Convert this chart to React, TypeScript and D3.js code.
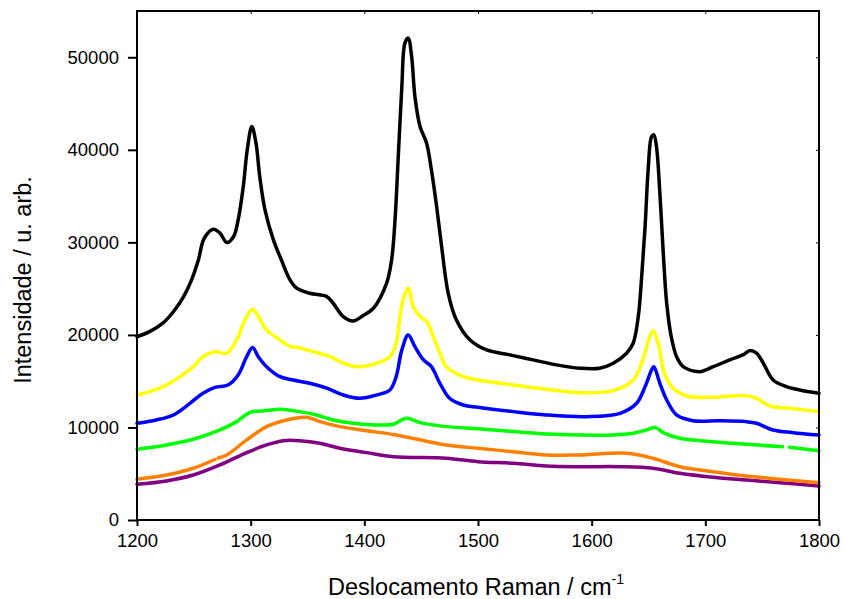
import React, { useEffect, useRef } from 'react';
import * as d3 from 'd3';

// [wavenumber, intensity]; null = gap in the trace
const black: [number, number | null][] = [
  [1200, 19800], [1211, 20350], [1223, 21300], [1232, 22500], [1241, 24140], [1248, 25950],
  [1254, 28100], [1259, 30400], [1267, 31420], [1273, 31000], [1279, 29980],
  [1285, 30630], [1289, 32430], [1293.5, 36030], [1297, 40000], [1301, 42520], [1304.7, 40720],
  [1308, 37110], [1312.6, 33510], [1320, 30270], [1327, 28100], [1334.6, 25950], [1340.5, 25050],
  [1352, 24500], [1367, 24140], [1372.6, 23420], [1381.5, 21980], [1390, 21500], [1399, 22100],
  [1408, 22880], [1419.6, 25590], [1424, 28100], [1427, 32430], [1430, 39640], [1433, 46840],
  [1435.7, 51530], [1438.6, 52070], [1441.6, 50090], [1444.5, 45760], [1449, 42520], [1454.8, 40720],
  [1459, 37840], [1463.6, 33870], [1468, 29540], [1473.8, 24500], [1481, 21620], [1493, 19460],
  [1507.6, 18380], [1528, 17840], [1548.5, 17300], [1569, 16760], [1589.6, 16400], [1607, 16400],
  [1619, 16940], [1630.7, 18020], [1636.5, 19100], [1641, 21980], [1644, 26300], [1647, 31700],
  [1649.7, 37840], [1652.7, 41430], [1654.7, 41620], [1657, 40360], [1660, 35320], [1663, 28830],
  [1666, 23420], [1670, 19810], [1674.7, 17650], [1680.5, 16570], [1695, 16030], [1707, 16570],
  [1721.5, 17300], [1733, 17840], [1739, 18300], [1745, 18020], [1751, 16940], [1759.6, 15130],
  [1771.4, 14410], [1783, 14050], [1800, 13700],
];

const yellow: [number, number | null][] = [
  [1200, 13510], [1211, 13870], [1223, 14410], [1238, 15490], [1249.5, 16570], [1258, 17650],
  [1268.6, 18190], [1279, 18020], [1287.7, 19460], [1295, 21620], [1301.7, 22780], [1306.7, 21980],
  [1314, 20540], [1325.8, 19460], [1334.6, 18740], [1340.5, 18670], [1355, 18190], [1370, 17650],
  [1381.5, 16940], [1393, 16570], [1411, 16940], [1422.5, 17650], [1428, 19100], [1431, 21620],
  [1434, 23780], [1438.6, 25050], [1443, 23060], [1449, 21980], [1455, 21440], [1460.6, 19810],
  [1466.5, 18020], [1472, 16570], [1487, 15490], [1500, 15130], [1531, 14590], [1560, 14130],
  [1589.6, 13760], [1619, 13980], [1636.5, 15130], [1645, 17300], [1651, 19810], [1654, 20460],
  [1658.5, 19100], [1664, 15860], [1671.7, 14240], [1683.5, 13400], [1707, 13260], [1736, 13440],
  [1745, 13150], [1756.7, 12320], [1774, 12070], [1800, 11710],
];

const blue: [number, number | null][] = [
  [1200, 10450], [1217, 10810], [1232, 11350], [1246.6, 12610], [1258, 13700], [1268.6, 14340],
  [1280, 14590], [1289, 15670], [1296.5, 17650], [1301.7, 18630], [1306.7, 17650], [1314, 16570],
  [1325.8, 15490], [1337.5, 15130], [1352, 14770], [1367, 14240], [1381.5, 13510], [1396, 13150],
  [1411, 13510], [1422.5, 14050], [1428, 15490], [1433, 18380], [1438.6, 20000], [1444.5, 18740],
  [1452, 17300], [1459, 16570], [1466.5, 14770], [1475, 13150], [1487, 12430], [1500, 12180],
  [1531, 11710], [1560, 11350], [1595.5, 11170], [1625, 11530], [1639.5, 12610], [1647, 14410],
  [1652.7, 16210], [1654.7, 16570], [1660, 14770], [1666, 12970], [1674.7, 11350], [1689, 10730],
  [1712.7, 10730], [1736, 10630], [1745, 10450], [1759.6, 9730], [1777, 9440], [1800, 9190],
];

const green: [number, number | null][] = [
  [1200, 7640], [1226, 8110], [1249.5, 8720], [1273, 9730], [1287.7, 10630], [1299, 11600],
  [1314, 11820], [1325.8, 11970], [1343, 11710], [1358, 11350], [1372.6, 10810], [1390, 10450],
  [1411, 10270], [1425.5, 10350], [1437, 10990], [1449, 10520], [1472, 10090], [1500, 9850],
  [1531, 9550], [1560, 9300], [1589.6, 9190], [1619, 9190], [1636.5, 9370], [1648, 9730],
  [1656.5, 9980], [1663, 9440], [1677.6, 8830], [1707, 8460], [1736, 8180], [1768, 7920],
  [1770, null], [1774, 7850], [1800, 7490],
];

const orange: [number, number | null][] = [
  [1200, 4400], [1226, 4860], [1249.5, 5590], [1268.5, 6540], [1270, null], [1271.5, 6700],
  [1279, 7030], [1296.5, 8650], [1314, 10090], [1331.6, 10810], [1349, 11100], [1361, 10630],
  [1378.5, 10090], [1402, 9650], [1428, 9190], [1472, 8110], [1500, 7750], [1531, 7380],
  [1560, 7030], [1589.6, 7030], [1630.7, 7210], [1654, 6670], [1677.6, 5760], [1707, 5220],
  [1736, 4760], [1765.5, 4400], [1800, 4030],
];

const purple: [number, number | null][] = [
  [1200, 3860], [1226, 4220], [1249.5, 4860], [1273, 5950], [1296.5, 7280], [1314, 8110],
  [1328.7, 8570], [1343, 8570], [1361, 8290], [1378.5, 7750], [1402, 7280], [1425.5, 6840],
  [1472, 6670], [1500, 6300], [1531, 6130], [1560, 5840], [1589.6, 5760], [1625, 5760],
  [1654, 5590], [1677.6, 5050], [1707, 4620], [1736, 4320], [1765.5, 4030], [1800, 3680],
];

const xTicks = [1200, 1300, 1400, 1500, 1600, 1700, 1800];
const yTicks = [0, 10000, 20000, 30000, 40000, 50000];

const seriesList = [
  { name: 'purple', data: purple, color: '#800080' },
  { name: 'orange', data: orange, color: '#ff8000' },
  { name: 'green', data: green, color: '#00ff00' },
  { name: 'blue', data: blue, color: '#0000ff' },
  { name: 'yellow', data: yellow, color: '#ffff00' },
  { name: 'black', data: black, color: '#000000' },
];

function App() {
  const svgRef = useRef<SVGSVGElement>(null);

  const width = 844;
  const height = 599;
  const marginLeft = 137;
  const marginRight = 25;
  const marginTop = 11;
  const marginBottom = 79;

  useEffect(() => {
    const svg = d3.select(svgRef.current);
    svg.selectAll('*').remove();

    const x = d3.scaleLinear().domain([1200, 1800]).range([marginLeft, width - marginRight]);
    const y = d3.scaleLinear().domain([0, 55000]).range([height - marginBottom, marginTop]);

    const font = '"Liberation Sans", Arial, Helvetica, sans-serif';

    // traces
    const line = d3.line<[number, number | null]>()
      .defined(d => d[1] !== null)
      .x(d => x(d[0]))
      .y(d => y(d[1] as number))
      .curve(d3.curveCatmullRom.alpha(0.5));

    svg.append('g')
      .selectAll('path')
      .data(seriesList)
      .join('path')
      .attr('fill', 'none')
      .attr('stroke', d => d.color)
      .attr('stroke-width', 3.5)
      .attr('stroke-linejoin', 'round')
      .attr('stroke-linecap', 'round')
      .attr('d', d => line(d.data));

    // bottom axis
    svg.append('g')
      .attr('transform', `translate(0,${height - marginBottom})`)
      .call(d3.axisBottom(x).tickValues(xTicks).tickFormat(d3.format('d')).tickSize(6).tickSizeOuter(0).tickPadding(8))
      .call(g => g.select('.domain').remove())
      .call(g => g.selectAll('.tick line').attr('stroke', '#000').attr('stroke-width', 2))
      .call(g => g.selectAll('.tick text').attr('font-family', font).attr('font-size', 18.5).attr('fill', '#000'));

    // left axis
    svg.append('g')
      .attr('transform', `translate(${marginLeft},0)`)
      .call(d3.axisLeft(y).tickValues(yTicks).tickFormat(d3.format('d')).tickSize(9).tickSizeOuter(0).tickPadding(9))
      .call(g => g.select('.domain').remove())
      .call(g => g.selectAll('.tick line').attr('stroke', '#000').attr('stroke-width', 2))
      .call(g => g.selectAll('.tick text').attr('font-family', font).attr('font-size', 18.5).attr('fill', '#000'));

    // mirrored inner ticks on top and right
    svg.append('g')
      .attr('transform', `translate(0,${marginTop})`)
      .call(d3.axisTop(x).tickValues(xTicks).tickFormat(() => '').tickSize(-3).tickSizeOuter(0))
      .call(g => g.select('.domain').remove())
      .call(g => g.selectAll('.tick line').attr('stroke', '#000').attr('stroke-width', 1));

    svg.append('g')
      .attr('transform', `translate(${width - marginRight},0)`)
      .call(d3.axisRight(y).tickValues(yTicks).tickFormat(() => '').tickSize(-3).tickSizeOuter(0))
      .call(g => g.select('.domain').remove())
      .call(g => g.selectAll('.tick line').attr('stroke', '#000').attr('stroke-width', 1));

    // frame
    svg.append('rect')
      .attr('x', marginLeft)
      .attr('y', marginTop)
      .attr('width', width - marginLeft - marginRight)
      .attr('height', height - marginTop - marginBottom)
      .attr('fill', 'none')
      .attr('stroke', '#000')
      .attr('stroke-width', 2);

    // axis titles
    const xTitle = svg.append('text')
      .attr('x', 476)
      .attr('y', 595)
      .attr('text-anchor', 'middle')
      .attr('font-family', font)
      .attr('font-size', 23.5)
      .attr('fill', '#000');
    xTitle.append('tspan').text('Deslocamento Raman / cm');
    xTitle.append('tspan').attr('dy', -11).attr('font-size', 14).text('-1');

    svg.append('text')
      .attr('transform', `translate(31,280) rotate(-90)`)
      .attr('text-anchor', 'middle')
      .attr('font-family', font)
      .attr('font-size', 23.5)
      .attr('fill', '#000')
      .text('Intensidade / u. arb.');
  }, []);

  return (
    <div>
      <svg
        ref={svgRef}
        width={width}
        height={height}
        style={{ position: 'absolute', left: 0, top: 0, background: '#fff' }}
      />
    </div>
  );
}

export default App;
